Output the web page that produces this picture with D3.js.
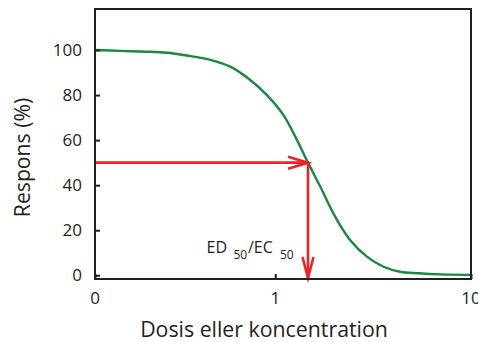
<!DOCTYPE html>
<html>
<head>
<meta charset="utf-8">
<script src="https://cdn.jsdelivr.net/npm/d3@7/dist/d3.min.js"></script>
<style>
  body { margin: 0; background: #fff; }
  svg { display: block; font-family: "Open Sans", sans-serif; }
</style>
</head>
<body>
<div id="chart"></div>
<script>
// dose values (log axis) and response (%)
var doses =     [0.12, 0.162, 0.230, 0.291, 0.368, 0.466, 0.589, 0.745, 0.907, 1.10, 1.29, 1.47, 1.70, 1.98, 2.41, 2.94, 3.57, 4.34, 5.39, 7.0, 10];
var responses = [100,  99.6,  99.2,  98.7,  97.3,  95.6,  92.6,  86.7,  80.0,  71.2, 60.1, 50,   39.3, 27.5, 15.7, 8.3,  3.8,  1.6,  0.9,  0.4, 0.2];

var xTicks = [0.12, 1, 10];
var xTickLabels = ["0", "1", "10"];
var yTicks = [0, 20, 40, 60, 80, 100];

var ec50 = 1.47, halfResponse = 50;

var width = 478, height = 342;
var mLeft = 95, mRight = 471, mTop = 9, mBottom = 279;

var x = d3.scaleLog().domain([0.12, 10]).range([mLeft, mRight]);
var y = d3.scaleLinear().domain([-1.64, 118.2]).range([mBottom, mTop]);

var svg = d3.select("#chart").append("svg")
    .attr("width", width)
    .attr("height", height);

var ink = "#231f20",
    green = "#168a3e",
    red = "#ec2227";

// curve
var line = d3.line()
    .x(function (d) { return x(d[0]); })
    .y(function (d) { return y(d[1]); })
    .curve(d3.curveCatmullRom.alpha(0.5));

svg.append("path")
    .datum(d3.zip(doses, responses))
    .attr("fill", "none")
    .attr("stroke", green)
    .attr("stroke-width", 2.4)
    .attr("d", line);

// red arrows to ED50
var px = x(ec50), py = y(halfResponse);
var arrows = svg.append("g")
    .attr("stroke", red)
    .attr("stroke-width", 2.6)
    .attr("fill", "none");

arrows.append("line")
    .attr("x1", mLeft).attr("y1", py)
    .attr("x2", px).attr("y2", py);
arrows.append("path")
    .attr("d", "M" + (px - 20) + "," + (py - 6) + "L" + px + "," + py + "L" + (px - 20) + "," + (py + 6));

arrows.append("line")
    .attr("x1", px).attr("y1", py)
    .attr("x2", px).attr("y2", mBottom - 1);
arrows.append("path")
    .attr("d", "M" + (px - 5.5) + "," + (mBottom - 22) + "L" + px + "," + (mBottom - 1) + "L" + (px + 5.5) + "," + (mBottom - 22));

// frame
svg.append("rect")
    .attr("x", mLeft).attr("y", mTop)
    .attr("width", mRight - mLeft).attr("height", mBottom - mTop)
    .attr("fill", "none")
    .attr("stroke", ink)
    .attr("stroke-width", 2);

// y axis, ticks pointing inward
var yAxis = svg.append("g")
    .attr("transform", "translate(" + mLeft + ",0)")
    .call(d3.axisRight(y).tickValues(yTicks).tickSize(5).tickFormat(""));
yAxis.select(".domain").remove();
yAxis.selectAll("line").attr("stroke", ink).attr("stroke-width", 2);

svg.selectAll(".ylab")
    .data(yTicks)
    .enter().append("text")
    .attr("class", "ylab")
    .attr("x", mLeft - 13)
    .attr("y", function (d) { return y(d); })
    .attr("dy", "0.35em")
    .attr("text-anchor", "end")
    .attr("font-size", 17)
    .attr("fill", ink)
    .text(function (d) { return d; });

// x axis, ticks pointing inward
var xAxis = svg.append("g")
    .attr("transform", "translate(0," + mBottom + ")")
    .call(d3.axisTop(x).tickValues(xTicks).tickSize(5)
        .tickFormat(function (d, i) { return xTickLabels[i]; }));
xAxis.select(".domain").remove();
xAxis.selectAll("line").attr("stroke", ink).attr("stroke-width", 2);
xAxis.selectAll("text").remove();

svg.selectAll(".xlab")
    .data(xTicks)
    .enter().append("text")
    .attr("class", "xlab")
    .attr("x", function (d) { return x(d); })
    .attr("y", 304)
    .attr("text-anchor", "middle")
    .attr("font-size", 17)
    .attr("fill", ink)
    .text(function (d, i) { return xTickLabels[i]; });

// axis titles
svg.append("text")
    .attr("x", 264).attr("y", 337)
    .attr("text-anchor", "middle")
    .attr("font-size", 21.3)
    .attr("fill", ink)
    .text("Dosis eller koncentration");

svg.append("text")
    .attr("transform", "translate(30,157.5) rotate(-90)")
    .attr("text-anchor", "middle")
    .attr("font-size", 21.2)
    .attr("fill", ink)
    .text("Respons (%)");

// ED50 / EC50 label
var lab = svg.append("text")
    .attr("y", 253)
    .attr("font-size", 16)
    .attr("fill", ink);
lab.append("tspan").attr("x", 206.5).text("ED");
lab.append("tspan").attr("x", 233.5).attr("font-size", 12).attr("dy", 5.5).text("50");
lab.append("tspan").attr("x", 248).attr("dy", -5.5).text("/EC");
lab.append("tspan").attr("x", 280).attr("font-size", 12).attr("dy", 5.5).text("50");
</script>
</body>
</html>
